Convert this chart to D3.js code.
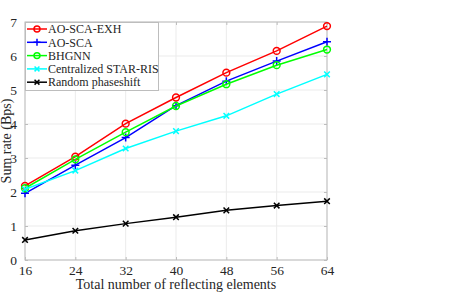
<!DOCTYPE html>
<html>
<head>
<meta charset="utf-8">
<script src="https://cdn.jsdelivr.net/npm/d3@7"></script>
<style>
  body { margin: 0; background: #fff; }
  text { font-family: "Liberation Serif", "DejaVu Serif", serif; fill: #262626; }
</style>
</head>
<body>
<svg id="chart" width="449" height="294"></svg>
<script>
// data
var elements = [16, 24, 32, 40, 48, 56, 64];
var yTicks = [0, 1, 2, 3, 4, 5, 6, 7];
var aoScaExh = [2.18, 3.04, 4.01, 4.78, 5.51, 6.15, 6.88];
var aoSca = [1.96, 2.79, 3.60, 4.54, 5.26, 5.85, 6.42];
var bhgnn = [2.11, 2.96, 3.76, 4.53, 5.17, 5.73, 6.19];
var centralized = [2.08, 2.63, 3.28, 3.79, 4.24, 4.88, 5.46];
var randomPhase = [0.59, 0.86, 1.07, 1.26, 1.46, 1.60, 1.73];

var series = [
    {"name": "AO-SCA-EXH", "values": aoScaExh, "color": "#ff0000", "marker": "circle"},
    {"name": "AO-SCA", "values": aoSca, "color": "#0000ff", "marker": "plus"},
    {"name": "BHGNN", "values": bhgnn, "color": "#00ff00", "marker": "circle"},
    {"name": "Centralized STAR-RIS", "values": centralized, "color": "#00ffff", "marker": "cross"},
    {"name": "Random phaseshift", "values": randomPhase, "color": "#000000", "marker": "cross"}
];

var svg = d3.select("#chart");
var plot = {"left": 25, "right": 327, "top": 22, "bottom": 260};

var x = d3.scaleLinear().domain([16, 64]).range([plot.left, plot.right]);
var y = d3.scaleLinear().domain([0, 7]).range([plot.bottom, plot.top]);

// grid
var grid = svg.append("g");
grid.selectAll(".gx")
    .data(elements)
    .enter()
    .append("line")
    .attr("x1", (d) => x(d)).attr("x2", (d) => x(d))
    .attr("y1", plot.top).attr("y2", plot.bottom)
    .style("stroke", "#ebebeb");
grid.selectAll(".gy")
    .data(yTicks)
    .enter()
    .append("line")
    .attr("x1", plot.left).attr("x2", plot.right)
    .attr("y1", (d) => y(d)).attr("y2", (d) => y(d))
    .style("stroke", "#ebebeb");

// axes, ticks inside like matlab
var axisColor = "#bdbdbd";
function styleAxis(g) {
    g.select(".domain").remove();
    g.selectAll(".tick line").style("stroke", axisColor);
    g.selectAll(".tick text")
        .style("font-size", "13.5px")
        .style("font-family", "'Liberation Serif', serif")
        .style("fill", "#262626");
}
svg.append("g")
    .attr("transform", "translate(0," + plot.bottom + ")")
    .call(d3.axisBottom(x).tickValues(elements).tickSize(-3).tickPadding(5).tickFormat(d3.format("d")))
    .call(styleAxis);
svg.append("g")
    .attr("transform", "translate(0," + plot.top + ")")
    .call(d3.axisTop(x).tickValues(elements).tickSize(-3).tickFormat(""))
    .call(styleAxis);
svg.append("g")
    .attr("transform", "translate(" + plot.left + ",0)")
    .call(d3.axisLeft(y).tickValues(yTicks).tickSize(-3).tickPadding(8).tickFormat(d3.format("d")))
    .call(styleAxis);
svg.append("g")
    .attr("transform", "translate(" + plot.right + ",0)")
    .call(d3.axisRight(y).tickValues(yTicks).tickSize(-3).tickFormat(""))
    .call(styleAxis);

svg.append("rect")
    .attr("x", plot.left).attr("y", plot.top)
    .attr("width", plot.right - plot.left).attr("height", plot.bottom - plot.top)
    .style("fill", "none")
    .style("stroke", axisColor);

// axis labels
svg.append("text")
    .attr("x", (plot.left + plot.right) / 2)
    .attr("y", 289)
    .attr("text-anchor", "middle")
    .style("font-size", "14px")
    .text("Total number of reflecting elements");
svg.append("text")
    .attr("transform", "translate(11," + ((plot.top + plot.bottom) / 2) + ") rotate(-90)")
    .attr("text-anchor", "middle")
    .style("font-size", "14px")
    .text("Sum rate (Bps)");

function drawMarker(g, type, color, size) {
    if (type == "circle") {
        g.append("circle").attr("r", size * 0.85)
            .style("fill", "none").style("stroke", color).style("stroke-width", 1.5);
    } else if (type == "plus") {
        g.append("path").attr("d", "M" + (-size) + ",0H" + size + "M0," + (-size) + "V" + size)
            .style("stroke", color).style("stroke-width", 1.5);
    } else {
        var s = size * 0.7;
        g.append("path")
            .attr("d", "M" + (-s) + "," + (-s) + "L" + s + "," + s + "M" + (-s) + "," + s + "L" + s + "," + (-s))
            .style("stroke", color).style("stroke-width", 1.5);
    }
}

var line = d3.line()
    .x((d, i) => x(elements[i]))
    .y((d) => y(d));

series.forEach(function (s) {
    svg.append("path")
        .attr("d", line(s.values))
        .style("fill", "none")
        .style("stroke", s.color)
        .style("stroke-width", 1.5);
    s.values.forEach(function (v, i) {
        var g = svg.append("g")
            .attr("transform", "translate(" + x(elements[i]) + "," + y(v) + ")");
        drawMarker(g, s.marker, s.color, 4);
    });
});

// legend
var legend = svg.append("g");
legend.append("rect")
    .attr("x", 25.5).attr("y", 22.5)
    .attr("width", 133).attr("height", 68)
    .style("fill", "#fff")
    .style("stroke", axisColor);
var entry = legend.selectAll(".entry")
    .data(series)
    .enter()
    .append("g")
    .attr("transform", (d, i) => "translate(0," + (29 + i * 13.3) + ")");
entry.append("line")
    .attr("x1", 27).attr("x2", 47)
    .style("stroke", (d) => d.color)
    .style("stroke-width", 1.5);
entry.each(function (d) {
    var g = d3.select(this).append("g").attr("transform", "translate(37,0)");
    drawMarker(g, d.marker, d.color, 3.5);
});
entry.append("text")
    .attr("x", 48)
    .attr("dy", "0.35em")
    .style("font-size", "12px")
    .text((d) => d.name);
</script>
</body>
</html>
